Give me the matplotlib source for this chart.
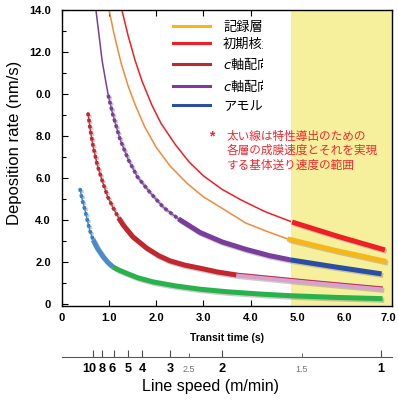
import numpy as np
import matplotlib.pyplot as plt
import matplotlib.patheffects as pe
import matplotlib.transforms as mtransforms
from matplotlib.lines import Line2D
from matplotlib.patches import Rectangle

# Transit time (s) vs deposition rate (nm/s)
# 初期核 (red)
red_t = np.array([1.27, 1.40, 1.55, 1.70, 1.90, 2.10, 2.40, 2.70, 3.00, 3.40, 3.80, 4.30, 4.88])
red_y = np.array([14.0, 12.8, 11.6, 10.6, 9.5, 8.6, 7.6, 6.75, 6.1, 5.45, 4.95, 4.4, 3.9])
red_thick_t = np.array([4.88, 5.85, 6.85])
red_thick_y = np.array([3.90, 3.22, 2.57])

# 記録層 (orange)
orange_t = np.array([1.00, 1.10, 1.25, 1.40, 1.55, 1.75, 2.00, 2.30, 2.65, 3.00, 3.40, 3.90, 4.35, 4.78])
orange_y = np.array([14.0, 12.9, 11.5, 10.4, 9.5, 8.45, 7.45, 6.55, 5.75, 5.1, 4.55, 3.85, 3.45, 3.1])
orange_thick_t = np.array([4.78, 5.80, 6.88])
orange_thick_y = np.array([3.10, 2.55, 2.02])

# c軸配向 (purple) -> アモルファス (blue)
purple_t = np.array([0.72, 0.78, 0.85, 0.92, 0.98, 1.08, 1.23, 1.40, 1.60, 1.87, 2.15, 2.47,
                     2.93, 3.40, 3.90, 4.40, 4.84])
purple_y = np.array([14.0, 12.9, 11.6, 10.7, 9.95, 9.0, 7.85, 6.9, 6.05, 5.3, 4.6, 4.05,
                     3.4, 2.95, 2.6, 2.3, 2.1])
blue_t = np.array([4.84, 5.80, 6.78])
blue_y = np.array([2.10, 1.76, 1.43])

# c軸配向 (dark red) -> pink
dred_t = np.array([0.55, 0.60, 0.66, 0.75, 0.87, 0.97, 1.08, 1.20, 1.30, 1.50, 1.80, 2.05,
                   2.29, 2.60, 2.93, 3.30, 3.70])
dred_y = np.array([9.1, 8.3, 7.5, 6.6, 5.75, 5.1, 4.6, 4.1, 3.75, 3.2, 2.65, 2.3,
                   2.05, 1.85, 1.7, 1.52, 1.38])
pink_t = np.array([3.70, 5.20, 6.80])
pink_y = np.array([1.38, 1.05, 0.72])

# light blue -> green
lblue_t = np.array([0.38, 0.43, 0.49, 0.54, 0.59, 0.66, 0.75, 0.87, 0.97, 1.08])
lblue_y = np.array([5.5, 4.95, 4.45, 3.95, 3.5, 3.05, 2.65, 2.25, 1.98, 1.76])
green_t = np.array([1.08, 1.20, 1.38, 1.60, 1.93, 2.40, 2.93, 3.50, 4.20, 4.85, 5.80, 6.80])
green_y = np.array([1.76, 1.62, 1.45, 1.25, 1.05, 0.86, 0.70, 0.58, 0.47, 0.39, 0.31, 0.25])

legend_labels = ['記録層(CoPtCr)', '初期核生成層', '$c$軸配向層(2)', '$c$軸配向層(1)', 'アモルファス層']
note_text = '太い線は特性導出のための\n各層の成膜速度とそれを実現\nする基体送り速度の範囲'

x_ticks = [0, 1, 2, 3, 4, 5, 6, 7]
x_labels = ['0', '1.0', '2.0', '3.0', '4.0', '5.0', '6.0', '7.0']
y_ticks = [0, 2, 4, 6, 8, 10, 12, 14]
y_labels = ['0', '2.0', '4.0', '6.0', '8.0', '0.0', '12.0', '14.0']

# line speed ticks, placed where they sit on the transit-time scale
speed_pos = [0.66, 0.85, 1.10, 1.40, 1.70, 2.29, 3.39, 6.76]
speed_labels = ['10', '8', '6', '5', '4', '3', '2', '1']
speed_minor_pos = [2.70, 5.09]
speed_minor_labels = ['2.5', '1.5']

window = (4.85, 7.0)

CJK = ['Noto Sans CJK JP', 'DejaVu Sans']
LAT = 'Liberation Sans'


def part(t, y, lo, hi):
    m = (t >= lo - 1e-9) & (t <= hi + 1e-9)
    return t[m], y[m]


shadow = [pe.SimpleLineShadow(offset=(1.2, -1.2), shadow_color='0.55', alpha=0.45), pe.Normal()]

fig = plt.figure(figsize=(3.98, 4.03), dpi=100)
ax = fig.add_axes([62 / 398, 1 - 306 / 403, 330 / 398, 296 / 403])
ax.set_xlim(0, 7)
ax.set_ylim(-0.1, 14)

ax.axvspan(*window, color='#f6f09c', lw=0, zorder=2.5)
# white mask that cuts the legend texts short
ax.add_patch(Rectangle((0.610, 0.652), 0.090, 0.345, transform=ax.transAxes,
                       facecolor='white', edgecolor='none', zorder=2.3))

# thin curves
ax.plot(red_t, red_y, color='#ee1f26', lw=1.1, zorder=2)
ax.plot(orange_t, orange_y, color='#f28a3a', lw=1.1, zorder=2)
ax.plot(purple_t, purple_y, color='#7a3d9c', lw=1.1, zorder=2)
ax.plot(dred_t, dred_y, color='#c1272d', lw=1.1, zorder=2)
ax.plot(lblue_t, lblue_y, color='#2f7fc8', lw=1.0, zorder=2)

# dotted (square marker) parts
dot = dict(ls=(0, (0.9, 0.8)), lw=2.6, dash_capstyle='butt', zorder=3, path_effects=shadow)
ax.plot(*part(purple_t, purple_y, 0.98, 2.47), color='#7a3d9c', **dot)
ax.plot(*part(dred_t, dred_y, 0.55, 1.20), color='#c1272d', **dot)
ax.plot(*part(lblue_t, lblue_y, 0.38, 0.66), color='#2f7fc8', **dot)

# thick parts
thick = dict(lw=3.6, solid_capstyle='butt', zorder=3, path_effects=shadow)
ax.plot(*part(purple_t, purple_y, 2.47, 4.84), color='#7a3d9c', **thick)
ax.plot(*part(dred_t, dred_y, 1.20, 3.70), color='#c1272d', **thick)
ax.plot(*part(lblue_t, lblue_y, 0.66, 1.08), color='#4a8ccb', **thick)
ax.plot(green_t, green_y, color='#27b24b', **thick)
ax.plot(pink_t, pink_y, color='#d9a0cc', **thick)
ax.plot(pink_t, pink_y, color='#b4253a', lw=0.6, zorder=3.1,
        path_effects=[pe.Stroke(offset=(0, 1.3))])
ax.plot(blue_t, blue_y, color='#2b4ea5', **thick)
ax.plot(orange_thick_t, orange_thick_y, color='#f8b617', **thick)
ax.plot(red_thick_t, red_thick_y, color='#ee1f26', **thick)

# legend (sits under the yellow band)
leg_colors = ['#f8b617', '#ee1f26', '#c1272d', '#7a3d9c', '#2b4ea5']
handles = [Line2D([], [], color=c, lw=2.2) for c in leg_colors]
leg = ax.legend(handles, legend_labels, loc='upper left', bbox_to_anchor=(0.336, 0.966),
                frameon=False, borderpad=0, borderaxespad=0, handlelength=2.8,
                handletextpad=1.0, labelspacing=0.33,
                prop={'family': CJK, 'size': 9.5})
leg.set_zorder(2.2)

fig.text(212 / 398, 1 - 136 / 403, '*', fontsize=10, color='#f0282d',
         ha='center', va='center', family=LAT, fontweight='bold')
ax.text(0.499, 0.595, note_text, transform=ax.transAxes, family=CJK, fontsize=8.4,
        color='#f0282d', va='top', ha='left', linespacing=1.13, zorder=5)

ax.set_xticks(x_ticks, labels=x_labels)
ax.set_yticks(y_ticks, labels=y_labels)
ax.set_yticks(range(1, 14, 2), minor=True)
ax.tick_params(which='both', direction='in', top=True, right=True, width=0.8)
ax.tick_params(which='major', length=4)
ax.tick_params(which='minor', length=3)
ax.tick_params(axis='y', pad=8)
ax.tick_params(axis='x', pad=5)
for lab in ax.get_xticklabels() + ax.get_yticklabels():
    lab.set_family(LAT)
    lab.set_fontweight('bold')
    lab.set_fontsize(8.0)
for sp in ax.spines.values():
    sp.set_linewidth(1.0)
# keep the last x label inside the canvas
last = ax.get_xticklabels()[-1]
last.set_transform(last.get_transform() +
                   mtransforms.ScaledTranslation(-2.5 / 72, 0, fig.dpi_scale_trans))

ax.set_xlabel('Transit time (s)', family=LAT, fontweight='bold', fontsize=7.5)
ax.xaxis.set_label_coords(0.5, -0.092)
ax.set_ylabel('Deposition rate (nm/s)', family=LAT, fontsize=12)
ax.yaxis.set_label_coords(-0.122, 0.55)

# line speed scale
ax2 = fig.add_axes([62 / 398, 1 - 357 / 403, 330 / 398, 0.001])
ax2.set_xlim(0, 7)
ax2.set_yticks([])
for s in ['top', 'left', 'right']:
    ax2.spines[s].set_visible(False)
ax2.spines['bottom'].set_color('0.35')
ax2.spines['bottom'].set_linewidth(0.8)
ax2.patch.set_visible(False)
ax2.set_xticks(speed_pos, labels=[])
ax2.set_xticks(speed_minor_pos, labels=[], minor=True)
ax2.tick_params(which='major', direction='in', length=5, width=0.8, color='0.3')
ax2.tick_params(which='minor', direction='in', length=3, width=0.7, color='0.4')
nudge = {'10': -2.5, '6': -1.5}
for p, s in zip(speed_pos, speed_labels):
    ax2.annotate(s, xy=(p, 0), xycoords=('data', 'axes fraction'),
                 xytext=(nudge.get(s, 0), -4.5), textcoords='offset points',
                 ha='center', va='top', family=LAT, fontweight='bold', fontsize=9.2)
for p, s in zip(speed_minor_pos, speed_minor_labels):
    ax2.annotate(s, xy=(p, 0), xycoords=('data', 'axes fraction'),
                 xytext=(0, -6), textcoords='offset points',
                 ha='center', va='top', family=LAT, fontsize=6.5, color='0.45')

fig.text(211 / 398, 1 - 386 / 403, 'Line speed (m/min)', family=LAT, fontsize=11.5,
         ha='center', va='center')

fig.savefig('out.png', dpi=100)
